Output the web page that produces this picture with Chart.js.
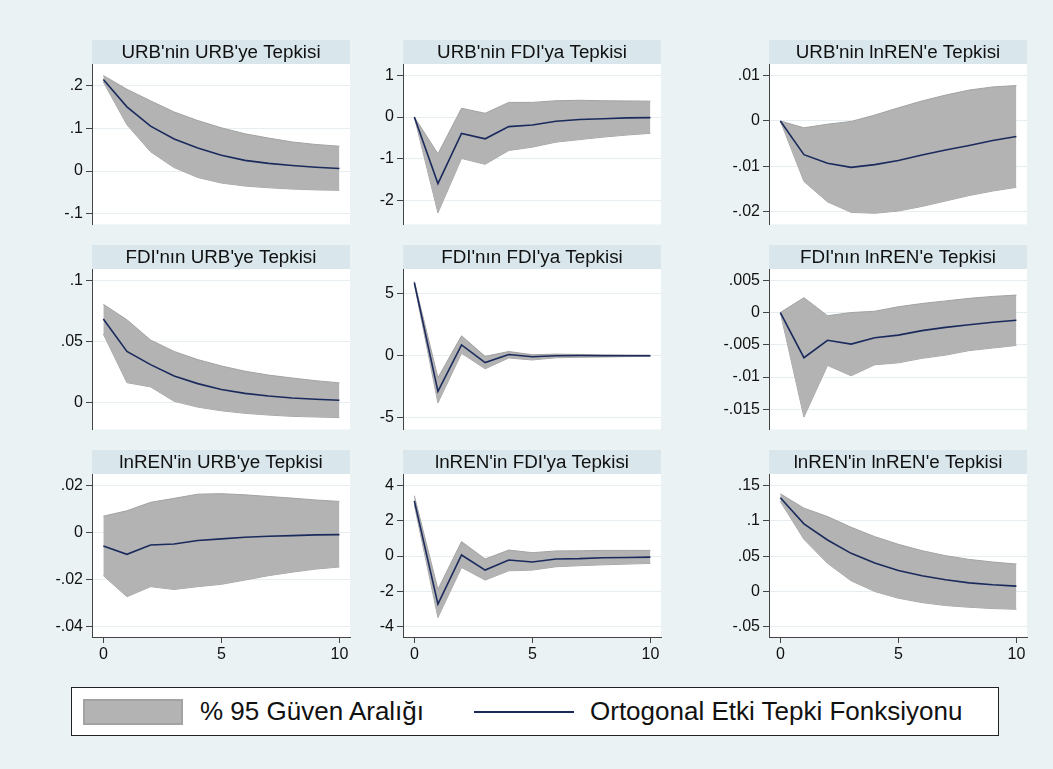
<!DOCTYPE html>
<html>
<head>
<meta charset="utf-8">
<script src="https://cdn.jsdelivr.net/npm/chart.js@4.4.0/dist/chart.umd.min.js"></script>
<style>
    body { margin: 0; width: 1053px; height: 769px; background: #eaf2f3; position: relative; overflow: hidden;
           font-family: "Liberation Sans", Arial, sans-serif; }
    canvas { position: absolute; }
    #legend { position: absolute; left: 71px; top: 687px; width: 926px; height: 47px; background: #fff; border: 1px solid #222; }
    #legend .swatch { position: absolute; left: 11px; top: 11px; width: 96px; height: 22px; background: #b3b3b3; border: 2px solid #a3a3a3; }
    #legend .line { position: absolute; left: 402px; top: 23px; width: 100px; height: 2px; background: #1a2a5c; }
    #legend span { position: absolute; top: 7px; font-size: 26px; line-height: 32px; color: #111; }
</style>
</head>
<body>
<div id="legend">
    <div class="swatch"></div><span style="left:128px">% 95 Güven Aralığı</span>
    <div class="line"></div><span style="left:518px">Ortogonal Etki Tepki Fonksiyonu</span>
</div>
<script>
const steps = [0, 1, 2, 3, 4, 5, 6, 7, 8, 9, 10];
const xTicks = ['0', '5', '10'];

// URB -> URB
const urbUrbIrf = [0.214, 0.150, 0.105, 0.075, 0.054, 0.037, 0.025, 0.018, 0.013, 0.009, 0.006];
const urbUrbHi  = [0.223, 0.191, 0.164, 0.138, 0.118, 0.101, 0.087, 0.077, 0.068, 0.062, 0.058];
const urbUrbLo  = [0.208, 0.108, 0.045, 0.008, -0.015, -0.028, -0.035, -0.039, -0.042, -0.044, -0.045];
const urbUrbTicks = ['-.1', '0', '.1', '.2'];

// URB -> FDI
const urbFdiIrf = [0, -1.59, -0.39, -0.52, -0.23, -0.19, -0.10, -0.06, -0.04, -0.02, -0.015];
const urbFdiHi  = [0, -0.88, 0.21, 0.09, 0.35, 0.35, 0.39, 0.40, 0.39, 0.385, 0.38];
const urbFdiLo  = [0, -2.29, -0.99, -1.13, -0.80, -0.72, -0.60, -0.54, -0.48, -0.43, -0.39];
const urbFdiTicks = ['-2', '-1', '0', '1'];

// URB -> lnREN
const urbRenIrf = [0, -0.0074, -0.0093, -0.0102, -0.0096, -0.0087, -0.0075, -0.0064, -0.0054, -0.0043, -0.0034];
const urbRenHi  = [0, -0.0015, -0.0007, -0.0001, 0.0013, 0.0029, 0.0044, 0.0057, 0.0068, 0.0075, 0.0078];
const urbRenLo  = [0, -0.0133, -0.0178, -0.0201, -0.0203, -0.0198, -0.0188, -0.0176, -0.0164, -0.0154, -0.0146];
const urbRenTicks = ['-.02', '-.01', '0', '.01'];

// FDI -> URB
const fdiUrbIrf = [0.0683, 0.0417, 0.0309, 0.0215, 0.0153, 0.0105, 0.0073, 0.0051, 0.0035, 0.0024, 0.0016];
const fdiUrbHi  = [0.0804, 0.0677, 0.0511, 0.0417, 0.0350, 0.0298, 0.0255, 0.0223, 0.0199, 0.0177, 0.0159];
const fdiUrbLo  = [0.0560, 0.0161, 0.0126, 0.0008, -0.0040, -0.0070, -0.0091, -0.0105, -0.0116, -0.0121, -0.0126];
const fdiUrbTicks = ['0', '.05', '.1'];

// FDI -> FDI
const fdiFdiIrf = [5.87, -2.87, 0.87, -0.55, 0.10, -0.08, 0.0, 0.02, 0.0, 0.0, 0.0];
const fdiFdiHi  = [5.98, -1.76, 1.60, -0.05, 0.34, 0.08, 0.13, 0.10, 0.08, 0.06, 0.05];
const fdiFdiLo  = [5.76, -3.79, 0.20, -1.05, -0.18, -0.34, -0.16, -0.13, -0.10, -0.07, -0.06];
const fdiFdiTicks = ['-5', '0', '5'];

// FDI -> lnREN
const fdiRenIrf = [0, -0.0070, -0.0043, -0.0049, -0.0039, -0.0035, -0.0028, -0.0023, -0.0019, -0.0015, -0.0012];
const fdiRenHi  = [0, 0.0023, -0.0005, 0.0000, 0.0002, 0.0009, 0.0014, 0.0018, 0.0022, 0.0025, 0.0027];
const fdiRenLo  = [0, -0.0162, -0.0082, -0.0098, -0.0081, -0.0078, -0.0071, -0.0066, -0.0059, -0.0055, -0.0051];
const fdiRenTicks = ['-.015', '-.01', '-.005', '0', '.005'];

// lnREN -> URB
const renUrbIrf = [-0.0057, -0.0093, -0.0053, -0.0049, -0.0034, -0.0027, -0.0020, -0.0016, -0.0013, -0.0010, -0.0009];
const renUrbHi  = [0.0070, 0.0093, 0.0129, 0.0146, 0.0164, 0.0166, 0.0161, 0.0154, 0.0147, 0.0139, 0.0133];
const renUrbLo  = [-0.0184, -0.0274, -0.0231, -0.0243, -0.0231, -0.0221, -0.0203, -0.0184, -0.0169, -0.0156, -0.0147];
const renUrbTicks = ['-.04', '-.02', '0', '.02'];

// lnREN -> FDI
const renFdiIrf = [3.14, -2.74, 0.06, -0.80, -0.23, -0.34, -0.17, -0.15, -0.10, -0.08, -0.06];
const renFdiHi  = [3.43, -1.90, 0.82, -0.17, 0.34, 0.19, 0.29, 0.30, 0.32, 0.32, 0.32];
const renFdiLo  = [2.91, -3.50, -0.65, -1.37, -0.84, -0.80, -0.61, -0.55, -0.50, -0.46, -0.42];
const renFdiTicks = ['-4', '-2', '0', '2', '4'];

// lnREN -> lnREN
const renRenIrf = [0.1329, 0.0959, 0.0731, 0.0541, 0.0403, 0.0299, 0.0223, 0.0166, 0.0123, 0.0095, 0.0076];
const renRenHi  = [0.1386, 0.1182, 0.1063, 0.0911, 0.0778, 0.0669, 0.0579, 0.0508, 0.0455, 0.0418, 0.0389];
const renRenLo  = [0.1277, 0.0740, 0.0399, 0.0152, 0.0000, -0.0095, -0.0157, -0.0199, -0.0223, -0.0242, -0.0252];
const renRenTicks = ['-.05', '0', '.05', '.1', '.15'];

const panels = [
    { title: "URB'nin URB'ye Tepkisi",   irf: urbUrbIrf, hi: urbUrbHi, lo: urbUrbLo, ticks: urbUrbTicks, min: -0.1246, max: 0.25 },
    { title: "URB'nin FDI'ya Tepkisi",   irf: urbFdiIrf, hi: urbFdiHi, lo: urbFdiLo, ticks: urbFdiTicks, min: -2.567, max: 1.268 },
    { title: "URB'nin lnREN'e Tepkisi",  irf: urbRenIrf, hi: urbRenHi, lo: urbRenLo, ticks: urbRenTicks, min: -0.02275, max: 0.01254 },
    { title: "FDI'nın URB'ye Tepkisi",   irf: fdiUrbIrf, hi: fdiUrbHi, lo: fdiUrbLo, ticks: fdiUrbTicks, min: -0.0223, max: 0.1094 },
    { title: "FDI'nın FDI'ya Tepkisi",   irf: fdiFdiIrf, hi: fdiFdiHi, lo: fdiFdiLo, ticks: fdiFdiTicks, min: -5.92, max: 6.97 },
    { title: "FDI'nın lnREN'e Tepkisi",  irf: fdiRenIrf, hi: fdiRenHi, lo: fdiRenLo, ticks: fdiRenTicks, min: -0.01812, max: 0.00675 },
    { title: "lnREN'in URB'ye Tepkisi",  irf: renUrbIrf, hi: renUrbHi, lo: renUrbLo, ticks: renUrbTicks, min: -0.0446, max: 0.025 },
    { title: "lnREN'in FDI'ya Tepkisi",  irf: renFdiIrf, hi: renFdiHi, lo: renFdiLo, ticks: renFdiTicks, min: -4.61, max: 4.67 },
    { title: "lnREN'in lnREN'e Tepkisi", irf: renRenIrf, hi: renRenHi, lo: renRenLo, ticks: renRenTicks, min: -0.0645, max: 0.1666 }
];

// page layout (px)
const colLeft = [92, 403, 769];
const rowTop = [40, 245, 450];
const plotW = 258, plotH = 163, titleH = 24, axisW = 70, padR = 4, xAxisH = 34;

const bgPlugin = {
    id: 'stataBg',
    beforeDraw(chart) {
        const ctx = chart.ctx;
        const t = chart.titleBlock;
        const a = chart.chartArea;
        ctx.save();
        ctx.fillStyle = '#d9e6eb';
        ctx.fillRect(a.left, t.top, a.right - a.left, t.height);
        ctx.fillStyle = '#ffffff';
        ctx.fillRect(a.left, a.top, a.right - a.left, a.bottom - a.top);
        ctx.restore();
    }
};

const pts = arr => steps.map((s, i) => ({ x: s, y: arr[i] }));

panels.forEach((p, k) => {
    const r = Math.floor(k / 3), c = k % 3;
    const bottomRow = r === 2;
    const cv = document.createElement('canvas');
    const w = axisW + plotW + padR;
    const h = titleH + plotH + (bottomRow ? xAxisH : 10);
    cv.width = w; cv.height = h;
    cv.style.left = (colLeft[c] - axisW) + 'px';
    cv.style.top = rowTop[r] + 'px';
    cv.style.width = w + 'px'; cv.style.height = h + 'px';
    document.body.appendChild(cv);

    const yVals = p.ticks.map(Number);

    new Chart(cv.getContext('2d'), {
        type: 'line',
        data: {
            datasets: [
                { data: pts(p.irf), borderColor: '#1a2a5c', borderWidth: 1.6, pointRadius: 0, fill: false, tension: 0 },
                { data: pts(p.hi), borderColor: '#a3a3a3', borderWidth: 1, pointRadius: 0, fill: '+1', backgroundColor: '#b3b3b3', tension: 0 },
                { data: pts(p.lo), borderColor: '#a3a3a3', borderWidth: 1, pointRadius: 0, fill: false, tension: 0 }
            ]
        },
        options: {
            responsive: false,
            animation: false,
            layout: { padding: { top: 0, right: padR, bottom: bottomRow ? 0 : 10, left: 0 } },
            plugins: {
                legend: { display: false },
                tooltip: { enabled: false },
                title: {
                    display: true,
                    text: p.title,
                    fullSize: false,
                    color: '#111',
                    font: { family: '"Liberation Sans", Arial, sans-serif', size: 18.8, weight: 'normal', lineHeight: 1 },
                    padding: { top: 3.5, bottom: 1.7 }
                }
            },
            scales: {
                x: {
                    type: 'linear',
                    display: bottomRow,
                    min: -0.48,
                    max: 10.45,
                    afterBuildTicks: s => { s.ticks = xTicks.map(v => ({ value: Number(v) })); },
                    afterFit: s => { if (bottomRow) s.height = xAxisH; },
                    grid: { drawOnChartArea: false, tickLength: 6, tickColor: '#444' },
                    border: { color: '#444', width: 1 },
                    ticks: {
                        autoSkip: false, maxRotation: 0, padding: 2, color: '#111',
                        font: { family: '"Liberation Sans", Arial, sans-serif', size: 16 },
                        callback: (v, i) => xTicks[i]
                    }
                },
                y: {
                    type: 'linear',
                    min: p.min,
                    max: p.max,
                    afterBuildTicks: s => { s.ticks = yVals.map(v => ({ value: v })); },
                    afterFit: s => { s.width = axisW; },
                    grid: { color: '#e6eef1', lineWidth: 1, tickLength: 6, tickColor: '#444' },
                    border: { color: '#444', width: 1 },
                    ticks: {
                        autoSkip: false, padding: 3, color: '#111',
                        font: { family: '"Liberation Sans", Arial, sans-serif', size: 16 },
                        callback: (v, i) => p.ticks[i]
                    }
                }
            }
        },
        plugins: [bgPlugin]
    });
});
</script>
</body>
</html>
